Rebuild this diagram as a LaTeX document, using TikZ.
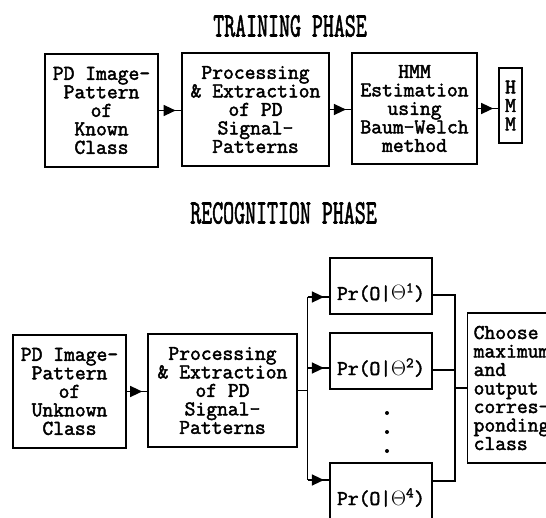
\documentclass[tikz,border=0pt]{standalone}
\usepackage{fontspec}
\usepackage{graphicx}
\usepackage{tikz}
\usetikzlibrary{positioning}
\usetikzlibrary{arrows.meta}
\usetikzlibrary{decorations.markings}
\newfontfamily\printfont{Latin Modern Mono}[FakeBold=2.2]
\tikzstyle{block}=[draw, line width=1.3pt, align=center, inner sep=0pt, font=\fontsize{21}{18.5}\selectfont\printfont]
\tikzstyle{prob}=[block, minimum width=102pt, minimum height=56pt, text height=30pt, text depth=2pt]
\tikzstyle{wire}=[line width=1.3pt]
\tikzstyle{flow}=[wire, postaction={decorate}, decoration={markings, mark=at position 0.75 with {\arrow{Triangle[length=12pt,width=11pt]}}}]
\tikzstyle{dot}=[circle, fill=black, minimum size=4pt, inner sep=0pt]
\newcommand{\phasetitle}[1]{\scalebox{1}[1.6]{\fontsize{21.3}{22}\selectfont\printfont #1}}

\begin{document}
\begin{tikzpicture}[x=1pt, y=-1pt]

    \useasboundingbox (0,0) rectangle (546,518);
    \clip (0,0) rectangle (546,518);

    %training
    \node (train) at (290,26) {\phasetitle{TRAINING PHASE}};
    \node [block, minimum width=113pt, minimum height=113pt] (known) at (101.5,110.5) {PD Image-\\Pattern\\of\\Known\\Class};
    \node [block, minimum width=147pt, minimum height=113pt] (proc) at (255.5,109.5) {Processing\\\& Extraction\\of PD\\Signal-\\Patterns};
    \node [block, minimum width=125pt, minimum height=111pt] (est) at (414.5,108.5) {HMM\\Estimation\\using\\Baum-Welch\\method};
    \node [block, minimum width=23pt, minimum height=75pt] (hmm) at (510.5,105.5) {H\\M\\M};

    \draw [flow] (known.east) -- (known.east -| proc.west);
    \draw [flow] (proc.east) -- (proc.east -| est.west);
    \draw [flow] (est.east) -- (est.east -| hmm.west);

    %recognition
    \node (recog) at (283.5,213) {\phasetitle{RECOGNITION PHASE}};
    \node [block, minimum width=113pt, minimum height=113pt] (unknown) at (69.5,391.5) {PD Image-\\Pattern\\of\\Unknown\\Class};
    \node [block, minimum width=149pt, minimum height=113pt] (proc2) at (222.5,390.5) {Processing\\\& Extraction\\of PD\\Signal-\\Patterns};
    \node [prob] (pr1) at (381,286) {Pr(O|$\Theta$\textsuperscript{1})};
    \node [prob] (pr2) at (381,361) {Pr(O|$\Theta$\textsuperscript{2})};
    \node [prob] (pr4) at (381,491) {Pr(O|$\Theta$\textsuperscript{4})};
    \node [block, anchor=west, align=left, text width=98pt, inner xsep=6pt, minimum height=150pt] (choose) at (467,388) {Choose\\maximum\\and\\output\\corres-\\ponding\\class};
    \foreach \y in {413,432,451}{\node [dot] (dot\y) at (387,\y) {};}

    \draw [flow] (unknown.east) -- (unknown.east -| proc2.west);

    %fan out
    \coordinate [right=10pt of proc2.east] (split);
    \coordinate (in1) at ([yshift=-11pt]pr1.west);
    \coordinate (in2) at ([yshift=-7pt]pr2.west);
    \coordinate (in4) at ([yshift=11pt]pr4.west);
    \draw [wire] (proc2.east) -- (split);
    \draw [wire] (split |- in1) -- (split |- in4);
    \foreach \i in {1,2,4}{\draw [flow] (split |- in\i) -- (in\i);}

    %fan in
    \coordinate [left=12pt of choose.west] (merge);
    \coordinate (out1) at ([yshift=-9pt]pr1.east);
    \coordinate (out2) at ([yshift=-9pt]pr2.east);
    \coordinate (out4) at ([yshift=10pt]pr4.east);
    \draw [wire] (out1) -| (merge |- out4) -- (out4);
    \draw [wire] (out2) -- (out2 -| merge);
    \draw [wire] (merge) -- (choose.west);

\end{tikzpicture}
\end{document}
